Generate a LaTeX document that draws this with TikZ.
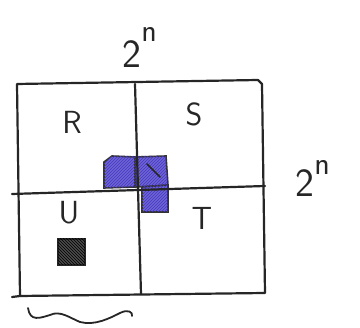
\documentclass[tikz,border=0pt]{standalone}
\usetikzlibrary{decorations.pathreplacing,patterns}
\definecolor{hatchblue}{RGB}{110,100,215}
\definecolor{deepblue}{RGB}{70,55,190}
\begin{document}
\begin{tikzpicture}[x=1pt,y=-1pt,
  pen/.style={line width=2.2pt,black!85,line cap=round,line join=round},
  lbl/.style={font=\fontsize{32}{32}\selectfont\sffamily,text=black!85},
  bluefill/.style={fill=hatchblue,draw=black!80,line width=1.6pt},
  hatch/.style={pattern=north east lines,pattern color=deepblue},
  darkfill/.style={fill=black!70,draw=black!85,line width=1.6pt}]
\useasboundingbox (0,0) rectangle (360,328);
% outer square
\draw[pen] (17,84) -- (258,80) -- (262,84) -- (265,293) -- (20,296) -- cycle;
\draw[pen] (12,297) -- (20,296);
% blue shaded boxes
\draw[bluefill] (104,188) -- (104,162) -- (112,156) -- (135,157) -- (135,187) -- cycle;
\draw[bluefill] (135,157) -- (166,156) -- (168,185) -- (136,187) -- cycle;
\draw[bluefill] (142,187) -- (168,185) -- (168,212) -- (142,212) -- cycle;
\fill[hatch] (104,188) -- (104,162) -- (112,156) -- (166,156) -- (168,212) -- (142,212) -- (142,187) -- cycle;
% mid lines
\draw[pen] (135,84) -- (141,294);
\draw[pen] (12,194) -- (265,186);
\draw[pen,line width=1.6pt] (147,164) -- (160,177);
% dark box in U
\draw[darkfill] (58,239) rectangle (85,265);
\fill[pattern=north west lines,pattern color=black] (58,239) rectangle (85,265);
% labels
\node[lbl] (R) at (72,122) {R};
\node[lbl] (S) at (194,114) {S};
\node[lbl] (U) at (69,213) {U};
\node[lbl] (T) at (202,218) {T};
\node[lbl,font=\fontsize{40}{40}\selectfont\sffamily,anchor=base west] (top) at (119,68) {2\raisebox{26pt}{\fontsize{32}{32}\selectfont n}};
\node[lbl,font=\fontsize{40}{40}\selectfont\sffamily,anchor=base west] (right) at (292,197) {2\raisebox{22pt}{\fontsize{32}{32}\selectfont n}};
% brace
\draw[pen,line width=1.8pt] (28,308) .. controls (30,322) and (40,318) .. (50,315)
  .. controls (60,310) and (70,318) .. (80,322) .. controls (95,326) and (110,318) .. (120,313)
  .. controls (128,309) and (133,312) .. (132,316);
\end{tikzpicture}
\end{document}
